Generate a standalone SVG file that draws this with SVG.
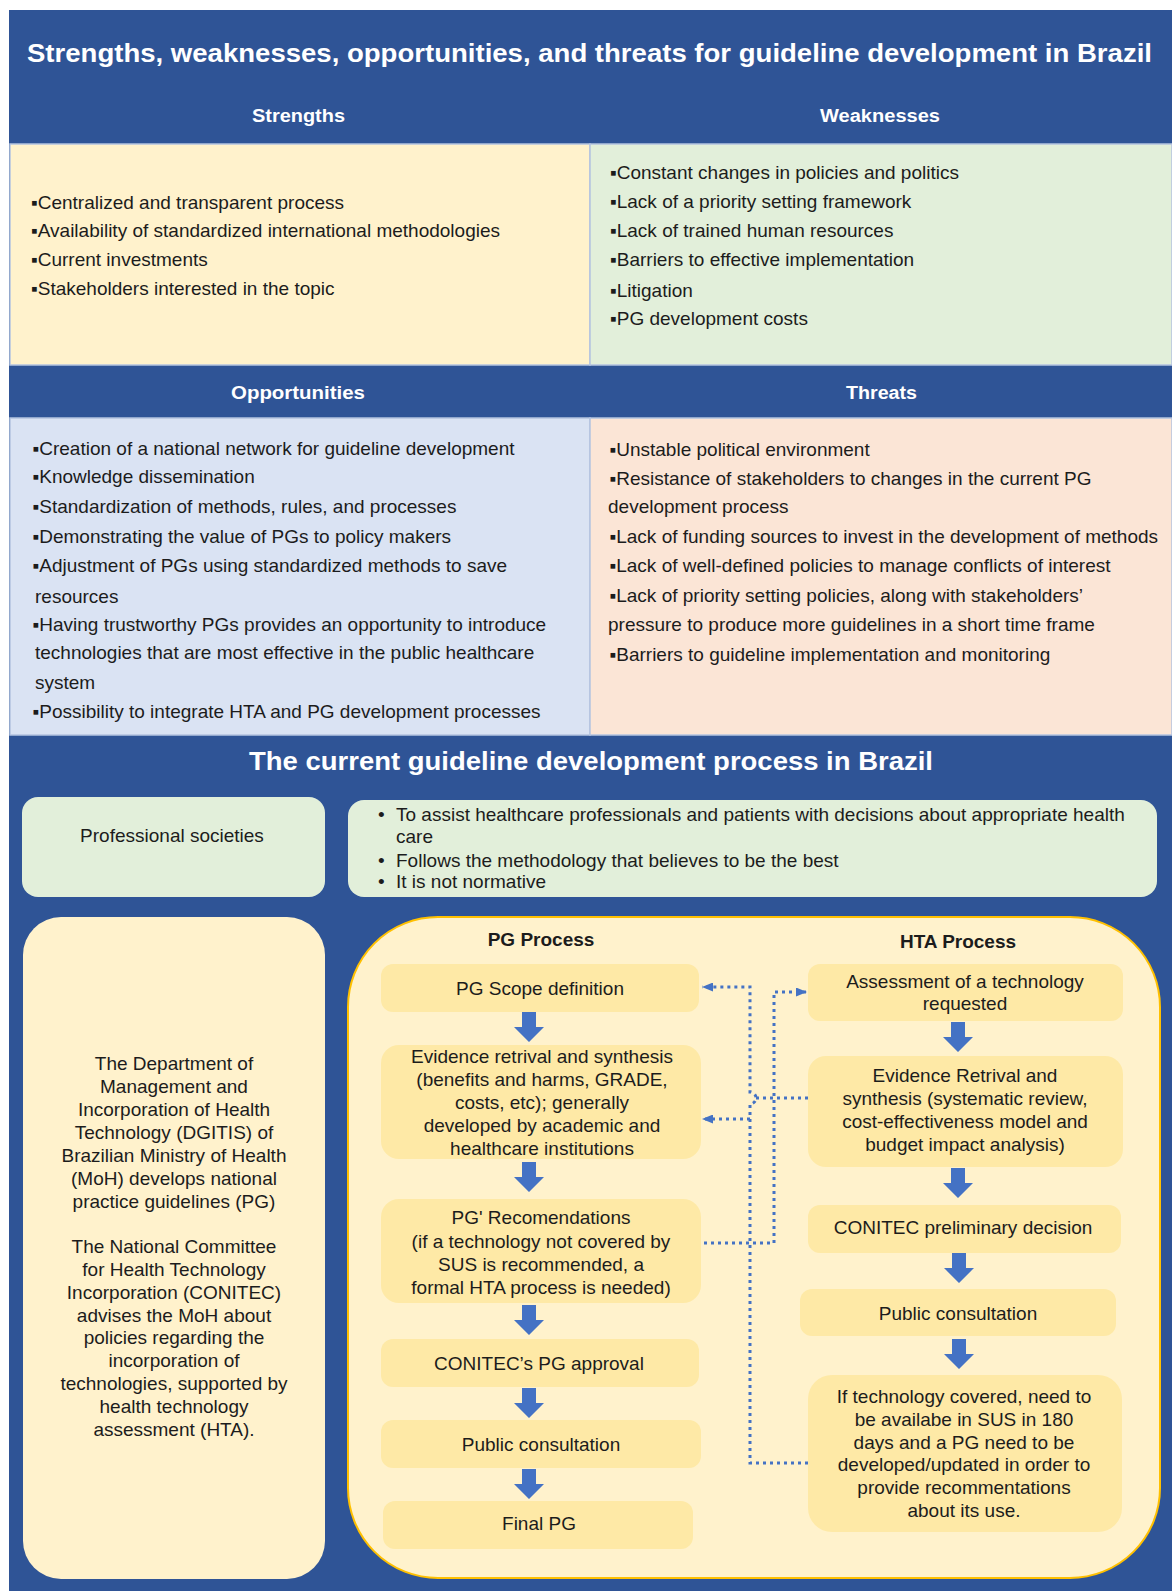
<svg xmlns="http://www.w3.org/2000/svg" width="1172" height="1591" viewBox="0 0 1172 1591">
<style>
text{font-family:"Liberation Sans",Arial,sans-serif;fill:#1c1c1c}
.ttl{font-size:25px;font-weight:bold;fill:#fff}
.hdr{font-size:18px;font-weight:bold;fill:#fff}
.b{font-size:19px}
.p{font-size:19px;text-anchor:middle}
.pb{font-size:19px}
.ph{font-size:19px;font-weight:bold;text-anchor:middle}
.box{fill:#fee9a6}
.cell{stroke:#b4c3e0;stroke-width:1.5}
.dot{fill:none;stroke:#4472c4;stroke-width:3;stroke-dasharray:3 4}
.arr{fill:#4472c4}
</style>
<defs>
<path id="darr" d="M-7,0 H7 V15 H15 L0,30 L-15,15 H-7 Z"/>
<marker id="ah" viewBox="0 0 11 9" refX="11" refY="4.5" markerWidth="11" markerHeight="9" markerUnits="userSpaceOnUse" orient="auto">
<path d="M0,0 L11,4.5 L0,9 Z" fill="#4472c4"/>
</marker>
</defs>

<rect x="9" y="10" width="1163" height="1581" fill="#2f5496"/>

<g id="swot-title">
<text class="ttl" x="27" y="62" textLength="1125" lengthAdjust="spacingAndGlyphs">Strengths, weaknesses, opportunities, and threats for guideline development in Brazil</text>
</g>

<g id="strengths">
<text class="hdr" x="252" y="122" textLength="93" lengthAdjust="spacingAndGlyphs">Strengths</text>
<rect class="cell" x="10" y="144" width="580" height="221" fill="#fff2cc"/>
<text class="b" x="31" y="208.5">▪Centralized and transparent process</text>
<text class="b" x="31" y="237">▪Availability of standardized international methodologies</text>
<text class="b" x="31" y="265.5">▪Current investments</text>
<text class="b" x="31" y="294.5">▪Stakeholders interested in the topic</text>
</g>

<g id="weaknesses">
<text class="hdr" x="820" y="122" textLength="120" lengthAdjust="spacingAndGlyphs">Weaknesses</text>
<rect class="cell" x="590" y="144" width="582" height="221" fill="#e2efda"/>
<text class="b" x="610" y="179">▪Constant changes in policies and politics</text>
<text class="b" x="610" y="208">▪Lack of a priority setting framework</text>
<text class="b" x="610" y="236.5">▪Lack of trained human resources</text>
<text class="b" x="610" y="265.5">▪Barriers to effective implementation</text>
<text class="b" x="610" y="296.5">▪Litigation</text>
<text class="b" x="610" y="325">▪PG development costs</text>
</g>

<g id="opportunities">
<text class="hdr" x="231" y="399" textLength="134" lengthAdjust="spacingAndGlyphs">Opportunities</text>
<rect class="cell" x="10" y="418" width="580" height="317" fill="#dae3f3"/>
<text class="b" x="32.5" y="454.5">▪Creation of a national network for guideline development</text>
<text class="b" x="32.5" y="483">▪Knowledge dissemination</text>
<text class="b" x="32.5" y="513">▪Standardization of methods, rules, and processes</text>
<text class="b" x="32.5" y="542.5">▪Demonstrating the value of PGs to policy makers</text>
<text class="b" x="32.5" y="571.5">▪Adjustment of PGs using standardized methods to save</text>
<text class="b" x="35" y="602.5">resources</text>
<text class="b" x="32.5" y="631">▪Having trustworthy PGs provides an opportunity to introduce</text>
<text class="b" x="35" y="659">technologies that are most effective in the public healthcare</text>
<text class="b" x="35" y="688.5">system</text>
<text class="b" x="32.5" y="717.5">▪Possibility to integrate HTA and PG development processes</text>
</g>

<g id="threats">
<text class="hdr" x="846" y="399" textLength="71" lengthAdjust="spacingAndGlyphs">Threats</text>
<rect class="cell" x="590" y="418" width="582" height="317" fill="#fbe5d6"/>
<text class="b" x="609.5" y="456">▪Unstable political environment</text>
<text class="b" x="609.5" y="484.5">▪Resistance of stakeholders to changes in the current PG</text>
<text class="b" x="608" y="512.5">development process</text>
<text class="b" x="609.5" y="542.5">▪Lack of funding sources to invest in the development of methods</text>
<text class="b" x="609.5" y="572">▪Lack of well-defined policies to manage conflicts of interest</text>
<text class="b" x="609.5" y="602">▪Lack of priority setting policies, along with stakeholders’</text>
<text class="b" x="608" y="631">pressure to produce more guidelines in a short time frame</text>
<text class="b" x="609.5" y="661">▪Barriers to guideline implementation and monitoring</text>
</g>

<g id="process-title">
<text class="ttl" x="249" y="770" textLength="684" lengthAdjust="spacingAndGlyphs">The current guideline development process in Brazil</text>
</g>

<g id="professional-societies">
<rect x="22" y="797" width="303" height="100" rx="16" fill="#e2efda"/>
<text class="p" x="172" y="842">Professional societies</text>
</g>

<g id="societies-notes">
<rect x="348" y="800" width="809" height="97" rx="16" fill="#e2efda"/>
<text class="pb" x="378" y="821">•</text>
<text class="pb" x="396" y="821">To assist healthcare professionals and patients with decisions about appropriate health</text>
<text class="pb" x="396" y="843">care</text>
<text class="pb" x="378" y="867">•</text>
<text class="pb" x="396" y="867">Follows the methodology that believes to be the best</text>
<text class="pb" x="378" y="888">•</text>
<text class="pb" x="396" y="888">It is not normative</text>
</g>

<g id="dgitis">
<rect x="23" y="917" width="302" height="662" rx="38" fill="#fff2cc"/>
<text class="p" x="174" y="1070">The Department of</text>
<text class="p" x="174" y="1093">Management and</text>
<text class="p" x="174" y="1116">Incorporation of Health</text>
<text class="p" x="174" y="1139">Technology (DGITIS) of</text>
<text class="p" x="174" y="1162">Brazilian Ministry of Health</text>
<text class="p" x="174" y="1185">(MoH) develops national</text>
<text class="p" x="174" y="1208">practice guidelines (PG)</text>
<text class="p" x="174" y="1253">The National Committee</text>
<text class="p" x="174" y="1276">for Health Technology</text>
<text class="p" x="174" y="1299">Incorporation (CONITEC)</text>
<text class="p" x="174" y="1322">advises the MoH about</text>
<text class="p" x="174" y="1344">policies regarding the</text>
<text class="p" x="174" y="1367">incorporation of</text>
<text class="p" x="174" y="1390">technologies, supported by</text>
<text class="p" x="174" y="1413">health technology</text>
<text class="p" x="174" y="1436">assessment (HTA).</text>
</g>

<g id="process-container">
<rect x="348" y="917" width="812" height="661" rx="90" fill="#fff2cc" stroke="#ffc000" stroke-width="2"/>
<text class="ph" x="541" y="946">PG Process</text>
<text class="ph" x="958" y="948">HTA Process</text>
</g>

<g id="pg-scope">
<rect class="box" x="381" y="964" width="318" height="48" rx="12"/>
<text class="p" x="540" y="995">PG Scope definition</text>
</g>
<g id="pg-evidence">
<rect class="box" x="381" y="1045" width="320" height="114" rx="18"/>
<text class="p" x="542" y="1063">Evidence retrival and synthesis</text>
<text class="p" x="542" y="1086">(benefits and harms, GRADE,</text>
<text class="p" x="542" y="1109">costs, etc); generally</text>
<text class="p" x="542" y="1132">developed by academic and</text>
<text class="p" x="542" y="1155">healthcare institutions</text>
</g>
<g id="pg-recommendations">
<rect class="box" x="381" y="1199" width="320" height="104" rx="18"/>
<text class="p" x="541" y="1224">PG' Recomendations</text>
<text class="p" x="541" y="1248">(if a technology not covered by</text>
<text class="p" x="541" y="1271">SUS is recommended, a</text>
<text class="p" x="541" y="1294">formal HTA process is needed)</text>
</g>
<g id="pg-approval">
<rect class="box" x="381" y="1339" width="318" height="48" rx="12"/>
<text class="p" x="539" y="1370">CONITEC’s PG approval</text>
</g>
<g id="pg-consultation">
<rect class="box" x="381" y="1420" width="320" height="48" rx="12"/>
<text class="p" x="541" y="1451">Public consultation</text>
</g>
<g id="pg-final">
<rect class="box" x="383" y="1501" width="310" height="48" rx="12"/>
<text class="p" x="539" y="1530">Final PG</text>
</g>

<g id="hta-assessment">
<rect class="box" x="808" y="964" width="315" height="57" rx="12"/>
<text class="p" x="965" y="988">Assessment of a technology</text>
<text class="p" x="965" y="1010">requested</text>
</g>
<g id="hta-evidence">
<rect class="box" x="808" y="1056" width="315" height="111" rx="18"/>
<text class="p" x="965" y="1082">Evidence Retrival and</text>
<text class="p" x="965" y="1105">synthesis (systematic review,</text>
<text class="p" x="965" y="1128">cost-effectiveness model and</text>
<text class="p" x="965" y="1151">budget impact analysis)</text>
</g>
<g id="hta-preliminary">
<rect class="box" x="808" y="1205" width="313" height="48" rx="12"/>
<text class="p" x="963" y="1234">CONITEC preliminary decision</text>
</g>
<g id="hta-consultation">
<rect class="box" x="800" y="1289" width="316" height="47" rx="12"/>
<text class="p" x="958" y="1320">Public consultation</text>
</g>
<g id="hta-covered">
<rect class="box" x="808" y="1375" width="314" height="157" rx="24"/>
<text class="p" x="964" y="1403">If technology covered, need to</text>
<text class="p" x="964" y="1426">be availabe in SUS in 180</text>
<text class="p" x="964" y="1449">days and a PG need to be</text>
<text class="p" x="964" y="1471">developed/updated in order to</text>
<text class="p" x="964" y="1494">provide recommentations</text>
<text class="p" x="964" y="1517">about its use.</text>
</g>

<g id="connectors">
<use class="arr" href="#darr" x="529" y="1012"/>
<use class="arr" href="#darr" x="529" y="1162"/>
<use class="arr" href="#darr" x="529" y="1305"/>
<use class="arr" href="#darr" x="529" y="1388"/>
<use class="arr" href="#darr" x="529" y="1469"/>
<use class="arr" href="#darr" x="958" y="1022"/>
<use class="arr" href="#darr" x="958" y="1168"/>
<use class="arr" href="#darr" x="959" y="1253"/>
<use class="arr" href="#darr" x="959" y="1339"/>
<path class="dot" d="M808,1463 H750 V1104 A6,6 0 0 0 750,1092 V987 H702" marker-end="url(#ah)"/>
<path class="dot" d="M750,1119 H702" marker-end="url(#ah)"/>
<path class="dot" d="M704,1243 H774 V992 H807" marker-end="url(#ah)"/>
<path class="dot" d="M808,1098 H756"/>
</g>
</svg>
